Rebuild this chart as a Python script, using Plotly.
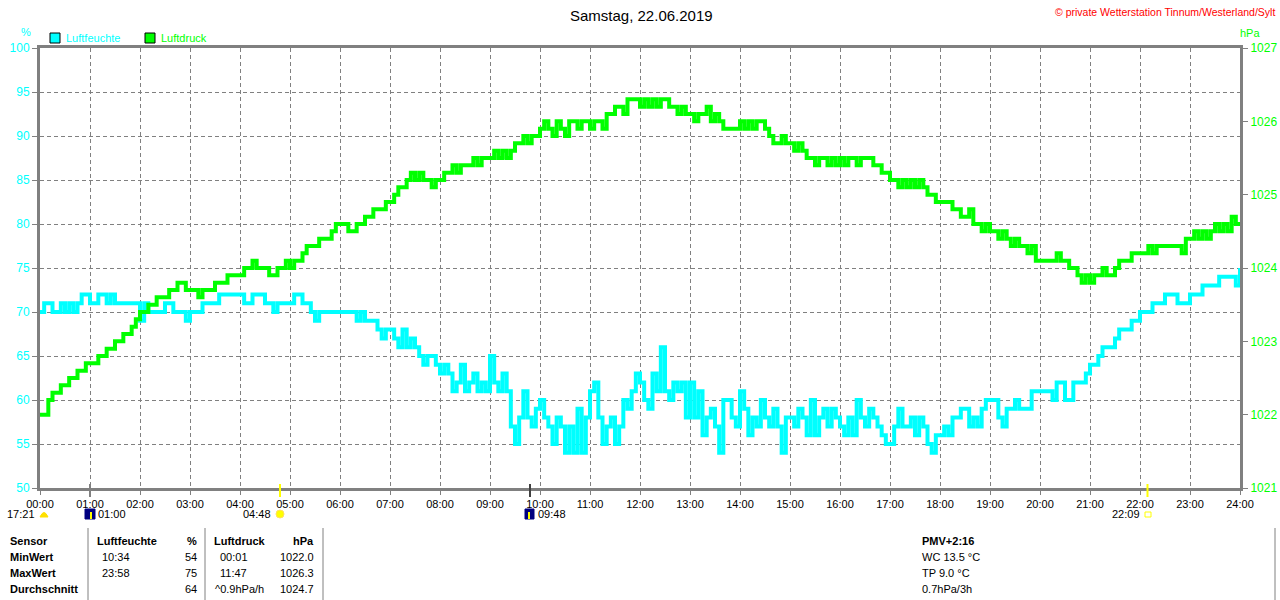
import plotly.graph_objects as go

# ---- data (5-minute samples, 00:00 .. 24:00) ----
humidity = [
    70,71,71,70,70,71,70,71,70,71,72,72,   # 00
    71,71,72,72,71,72,71,71,71,71,71,71,   # 01
    69,71,70,70,70,70,71,71,70,70,70,69,   # 02
    70,70,70,71,71,71,71,72,72,72,72,72,   # 03
    72,71,71,72,72,72,71,71,70,71,71,71,   # 04
    71,72,72,71,71,70,69,70,70,70,70,70,   # 05
    70,70,70,70,69,70,69,69,69,68,67,68,   # 06
    68,67,66,68,66,67,66,65,64,65,65,64,   # 07
    63,64,63,61,62,64,61,62,63,61,62,61,   # 08
    65,62,61,63,61,57,55,58,61,58,57,59,   # 09
    60,58,57,55,58,57,54,57,54,59,54,58,   # 10
    61,62,58,55,57,58,55,57,60,59,61,63,   # 11
    62,60,59,63,61,66,61,60,62,61,62,58,   # 12
    62,58,61,56,58,59,57,54,60,60,58,57,   # 13
    61,59,56,58,57,60,58,57,59,57,54,58,   # 14
    58,57,59,58,56,60,56,58,59,57,59,58,   # 15
    57,56,58,56,60,58,57,59,58,57,56,55,   # 16
    55,57,59,57,57,58,56,58,57,55,54,56,   # 17
    56,57,56,58,58,59,59,57,58,57,59,60,   # 18
    60,60,58,57,59,59,60,59,59,59,61,61,   # 19
    61,61,61,60,62,62,60,60,62,62,62,63,   # 20
    64,64,65,66,66,66,67,68,68,68,69,69,   # 21
    70,70,70,71,71,71,72,72,72,71,71,71,   # 22
    72,72,72,73,73,73,73,74,74,74,74,73,   # 23
    75,
]
pressure = [
    1022.0,1022.0,1022.2,1022.3,1022.3,1022.4,1022.4,1022.5,1022.5,1022.6,1022.6,1022.7,
    1022.7,1022.7,1022.8,1022.8,1022.9,1022.9,1023.0,1023.0,1023.1,1023.1,1023.2,1023.3,
    1023.4,1023.4,1023.5,1023.5,1023.6,1023.6,1023.6,1023.7,1023.7,1023.8,1023.8,1023.7,
    1023.7,1023.7,1023.6,1023.7,1023.7,1023.7,1023.8,1023.8,1023.8,1023.9,1023.9,1023.9,
    1023.9,1024.0,1024.0,1024.1,1024.0,1024.0,1024.0,1023.9,1023.9,1024.0,1024.0,1024.1,
    1024.0,1024.1,1024.1,1024.2,1024.3,1024.3,1024.3,1024.4,1024.4,1024.4,1024.5,1024.6,
    1024.6,1024.6,1024.5,1024.5,1024.6,1024.6,1024.7,1024.7,1024.8,1024.8,1024.8,1024.9,
    1024.9,1025.0,1025.1,1025.1,1025.2,1025.3,1025.2,1025.3,1025.2,1025.2,1025.1,1025.2,
    1025.2,1025.3,1025.3,1025.4,1025.3,1025.4,1025.4,1025.4,1025.5,1025.4,1025.5,1025.5,
    1025.5,1025.6,1025.5,1025.6,1025.5,1025.6,1025.7,1025.7,1025.8,1025.7,1025.8,1025.8,
    1025.9,1026.0,1025.9,1025.8,1026.0,1025.9,1025.8,1026.0,1026.0,1025.9,1026.0,1026.0,
    1025.9,1026.0,1026.0,1025.9,1026.1,1026.1,1026.2,1026.2,1026.1,1026.3,1026.3,1026.3,
    1026.2,1026.3,1026.2,1026.3,1026.2,1026.3,1026.3,1026.2,1026.2,1026.1,1026.2,1026.1,
    1026.1,1026.0,1026.1,1026.1,1026.2,1026.0,1026.1,1026.0,1025.9,1025.9,1025.9,1025.9,
    1026.0,1025.9,1026.0,1025.9,1026.0,1026.0,1025.9,1025.8,1025.7,1025.7,1025.8,1025.7,
    1025.7,1025.6,1025.7,1025.6,1025.5,1025.5,1025.4,1025.5,1025.5,1025.4,1025.5,1025.4,
    1025.5,1025.4,1025.5,1025.5,1025.4,1025.5,1025.5,1025.5,1025.4,1025.4,1025.3,1025.3,
    1025.2,1025.2,1025.1,1025.2,1025.1,1025.2,1025.1,1025.2,1025.1,1025.0,1025.0,1024.9,
    1024.9,1024.9,1024.9,1024.8,1024.8,1024.7,1024.7,1024.8,1024.6,1024.6,1024.5,1024.6,
    1024.5,1024.5,1024.4,1024.5,1024.4,1024.3,1024.4,1024.3,1024.3,1024.2,1024.3,1024.1,
    1024.1,1024.1,1024.1,1024.1,1024.2,1024.1,1024.1,1024.0,1024.0,1023.9,1023.8,1023.9,
    1023.8,1023.9,1023.9,1024.0,1023.9,1023.9,1024.0,1024.1,1024.1,1024.1,1024.2,1024.2,
    1024.2,1024.2,1024.3,1024.2,1024.3,1024.3,1024.3,1024.3,1024.3,1024.3,1024.2,1024.4,
    1024.4,1024.5,1024.4,1024.5,1024.4,1024.5,1024.6,1024.5,1024.6,1024.5,1024.7,1024.6,
    1024.6,
]
hours = [i * 5 / 60 for i in range(len(humidity))]

x_tick_vals = list(range(0, 25))
x_tick_text = [f"{h:02d}:00" for h in x_tick_vals]
hum_ticks = [50, 55, 60, 65, 70, 75, 80, 85, 90, 95, 100]
pres_ticks = [1021, 1022, 1023, 1024, 1025, 1026, 1027]

title_text = "Samstag, 22.06.2019"
copyright_text = "© private Wetterstation Tinnum/Westerland/Sylt"
sensor_rows = ["Sensor", "MinWert", "MaxWert", "Durchschnitt"]
hum_col = ["Luftfeuchte", "10:34", "23:58", ""]
hum_unit_col = ["%", "54", "75", "64"]
pres_col = ["Luftdruck", "00:01", "11:47", "^0.9hPa/h"]
pres_unit_col = ["hPa", "1022.0", "1026.3", "1024.7"]
extra_col = ["PMV+2:16", "WC 13.5 °C", "TP 9.0 °C", "0.7hPa/3h"]

CYAN = "#00FFFF"
GREEN = "#00FF00"
GRAY = "#808080"
FONT = "Liberation Sans"

W, H = 1280, 600
L, R, T, B = 40, 1240, 48, 488


def px(x):
    return (x - L) / (R - L)


def py(y):
    return (B - y) / (B - T)


fig = go.Figure()
fig.add_trace(go.Scatter(x=hours, y=humidity, mode="lines", line=dict(color=CYAN, width=4, shape="hv"),
                         name="Luftfeuchte", showlegend=False))
fig.add_trace(go.Scatter(x=hours, y=pressure, mode="lines", line=dict(color=GREEN, width=4, shape="hv"),
                         name="Luftdruck", yaxis="y2", showlegend=False))

ann = []
shapes = []

# title and copyright
ann.append(dict(x=px(641), y=py(15), xref="paper", yref="paper", text=title_text, showarrow=False,
                font=dict(family=FONT, size=15, color="black"), xanchor="center", yanchor="middle"))
ann.append(dict(x=px(1277), y=py(12), xref="paper", yref="paper", text=copyright_text, showarrow=False,
                font=dict(family=FONT, size=10.5, color="#FF0000"), xanchor="right", yanchor="middle"))
# axis units
ann.append(dict(x=px(26), y=py(32), xref="paper", yref="paper", text="%", showarrow=False,
                font=dict(family=FONT, size=11, color=CYAN), xanchor="center", yanchor="middle"))
ann.append(dict(x=px(1250), y=py(33), xref="paper", yref="paper", text="hPa", showarrow=False,
                font=dict(family=FONT, size=11, color=GREEN), xanchor="center", yanchor="middle"))
# legend
for x0, col, label in [(50, CYAN, "Luftfeuchte"), (145, GREEN, "Luftdruck")]:
    shapes.append(dict(type="rect", xref="paper", yref="paper", x0=px(x0), x1=px(x0 + 10), y0=py(43), y1=py(33),
                       fillcolor=col, line=dict(color="black", width=1)))
    ann.append(dict(x=px(x0 + 14), y=py(38), xref="paper", yref="paper", text=label, showarrow=False,
                    font=dict(family=FONT, size=11, color=col), xanchor="left", yanchor="middle"))

# sun / moon markers below the axis
for xm, col in [(280, "#FFFF00"), (1147.5, "#FFFF00"), (90, GRAY), (530, "#404040")]:
    shapes.append(dict(type="line", xref="paper", yref="paper", x0=px(xm), x1=px(xm), y0=py(497), y1=py(484),
                       line=dict(color=col, width=2)))
small = dict(family=FONT, size=11, color="black")
ann.append(dict(x=px(37), y=py(514), xref="paper", yref="paper", text="17:21", showarrow=False, font=small,
                xanchor="right", yanchor="middle"))
shapes.append(dict(type="path", xref="paper", yref="paper",
                   path=f"M {px(40)} {py(517)} Q {px(44)} {py(508)} {px(48)} {py(517)} Z",
                   fillcolor="#FFE000", line=dict(color="#FFE000", width=1)))
ann.append(dict(x=px(96), y=py(514), xref="paper", yref="paper", text="01:00", showarrow=False, font=small,
                xanchor="left", yanchor="middle"))
shapes.append(dict(type="rect", xref="paper", yref="paper", x0=px(85), x1=px(95), y0=py(519), y1=py(509),
                   fillcolor="#000080", line=dict(color="#000080", width=1)))
shapes.append(dict(type="line", xref="paper", yref="paper", x0=px(91), x1=px(91), y0=py(519), y1=py(512),
                   line=dict(color="#FFFF00", width=2)))
ann.append(dict(x=px(273), y=py(514), xref="paper", yref="paper", text="04:48", showarrow=False, font=small,
                xanchor="right", yanchor="middle"))
shapes.append(dict(type="circle", xref="paper", yref="paper", x0=px(276), x1=px(284), y0=py(518), y1=py(510),
                   fillcolor="#FFFF00", line=dict(color="#FFE060", width=1)))
ann.append(dict(x=px(536), y=py(514), xref="paper", yref="paper", text="09:48", showarrow=False, font=small,
                xanchor="left", yanchor="middle"))
shapes.append(dict(type="rect", xref="paper", yref="paper", x0=px(525), x1=px(534), y0=py(519), y1=py(509),
                   fillcolor="#000080", line=dict(color="#000080", width=1)))
shapes.append(dict(type="line", xref="paper", yref="paper", x0=px(529), x1=px(529), y0=py(519), y1=py(512),
                   line=dict(color="#FFFF00", width=2)))
ann.append(dict(x=px(1142), y=py(514), xref="paper", yref="paper", text="22:09", showarrow=False, font=small,
                xanchor="right", yanchor="middle"))
shapes.append(dict(type="rect", xref="paper", yref="paper", x0=px(1145), x1=px(1151), y0=py(517), y1=py(512),
                   fillcolor="rgba(0,0,0,0)", line=dict(color="#FFFF00", width=1)))

# statistics table
row_y = [541, 557, 573, 589]
for i, yv in enumerate(row_y):
    bold = i == 0

    def t(s, b=bold):
        return f"<b>{s}</b>" if (b and s) else s
    ann.append(dict(x=px(8), y=py(yv), xref="paper", yref="paper", text=f"<b>{sensor_rows[i]}</b>", showarrow=False,
                    font=dict(family=FONT, size=11, color="black"), xanchor="left", yanchor="middle"))
    ann.append(dict(x=px(95 if i == 0 else 100), y=py(yv), xref="paper", yref="paper", text=t(hum_col[i]),
                    showarrow=False, font=dict(family=FONT, size=11, color="black"), xanchor="left", yanchor="middle"))
    ann.append(dict(x=px(199), y=py(yv), xref="paper", yref="paper", text=t(hum_unit_col[i]),
                    showarrow=False, font=dict(family=FONT, size=11, color="black"), xanchor="right", yanchor="middle"))
    ann.append(dict(x=px(212 if i == 0 else 218 if i < 3 else 213), y=py(yv), xref="paper", yref="paper",
                    text=t(pres_col[i]), showarrow=False, font=dict(family=FONT, size=11, color="black"),
                    xanchor="left", yanchor="middle"))
    ann.append(dict(x=px(316), y=py(yv), xref="paper", yref="paper", text=t(pres_unit_col[i]),
                    showarrow=False, font=dict(family=FONT, size=11, color="black"), xanchor="right", yanchor="middle"))
    ann.append(dict(x=px(920), y=py(yv), xref="paper", yref="paper", text=t(extra_col[i]),
                    showarrow=False, font=dict(family=FONT, size=11, color="black"), xanchor="left", yanchor="middle"))
for xl in [88, 205, 323, 1275]:
    shapes.append(dict(type="line", xref="paper", yref="paper", x0=px(xl), x1=px(xl), y0=py(528), y1=py(600),
                       line=dict(color=GRAY, width=1)))

fig.update_layout(
    width=W, height=H, autosize=False,
    margin=dict(l=L, r=W - R, t=T, b=H - B, pad=0, autoexpand=False),
    paper_bgcolor="white", plot_bgcolor="white",
    showlegend=False,
    font=dict(family=FONT, size=11, color="black"),
    xaxis=dict(range=[0, 24], tickvals=x_tick_vals, ticktext=x_tick_text, showgrid=True, automargin=False,
               gridcolor=GRAY, griddash="4px,3px", gridwidth=1, zeroline=False,
               showline=True, linecolor=GRAY, linewidth=3, mirror=True,
               ticks="outside", ticklen=4, tickcolor=GRAY, tickwidth=1,
               tickfont=dict(family=FONT, size=11, color="black")),
    yaxis=dict(range=[50, 100], tickvals=hum_ticks, showgrid=True, gridcolor=GRAY, griddash="4px,3px",
               gridwidth=1, zeroline=False, showline=True, linecolor=GRAY, linewidth=3, mirror=True,
               automargin=False, ticks="outside", ticklen=5, tickcolor=GRAY, tickwidth=1,
               tickfont=dict(family=FONT, size=12, color=CYAN)),
    yaxis2=dict(range=[1021, 1027], tickvals=pres_ticks, overlaying="y", side="right", showgrid=False,
                zeroline=False, showline=True, linecolor=GRAY, linewidth=3, automargin=False,
                ticks="outside", ticklen=5, tickcolor=GRAY, tickwidth=1,
                tickfont=dict(family=FONT, size=12, color=GREEN)),
    annotations=ann,
    shapes=shapes,
)

fig.write_html("out.html", config={"displayModeBar": False, "responsive": False},
               post_script="document.body.style.margin='0';document.body.style.overflow='hidden';")
